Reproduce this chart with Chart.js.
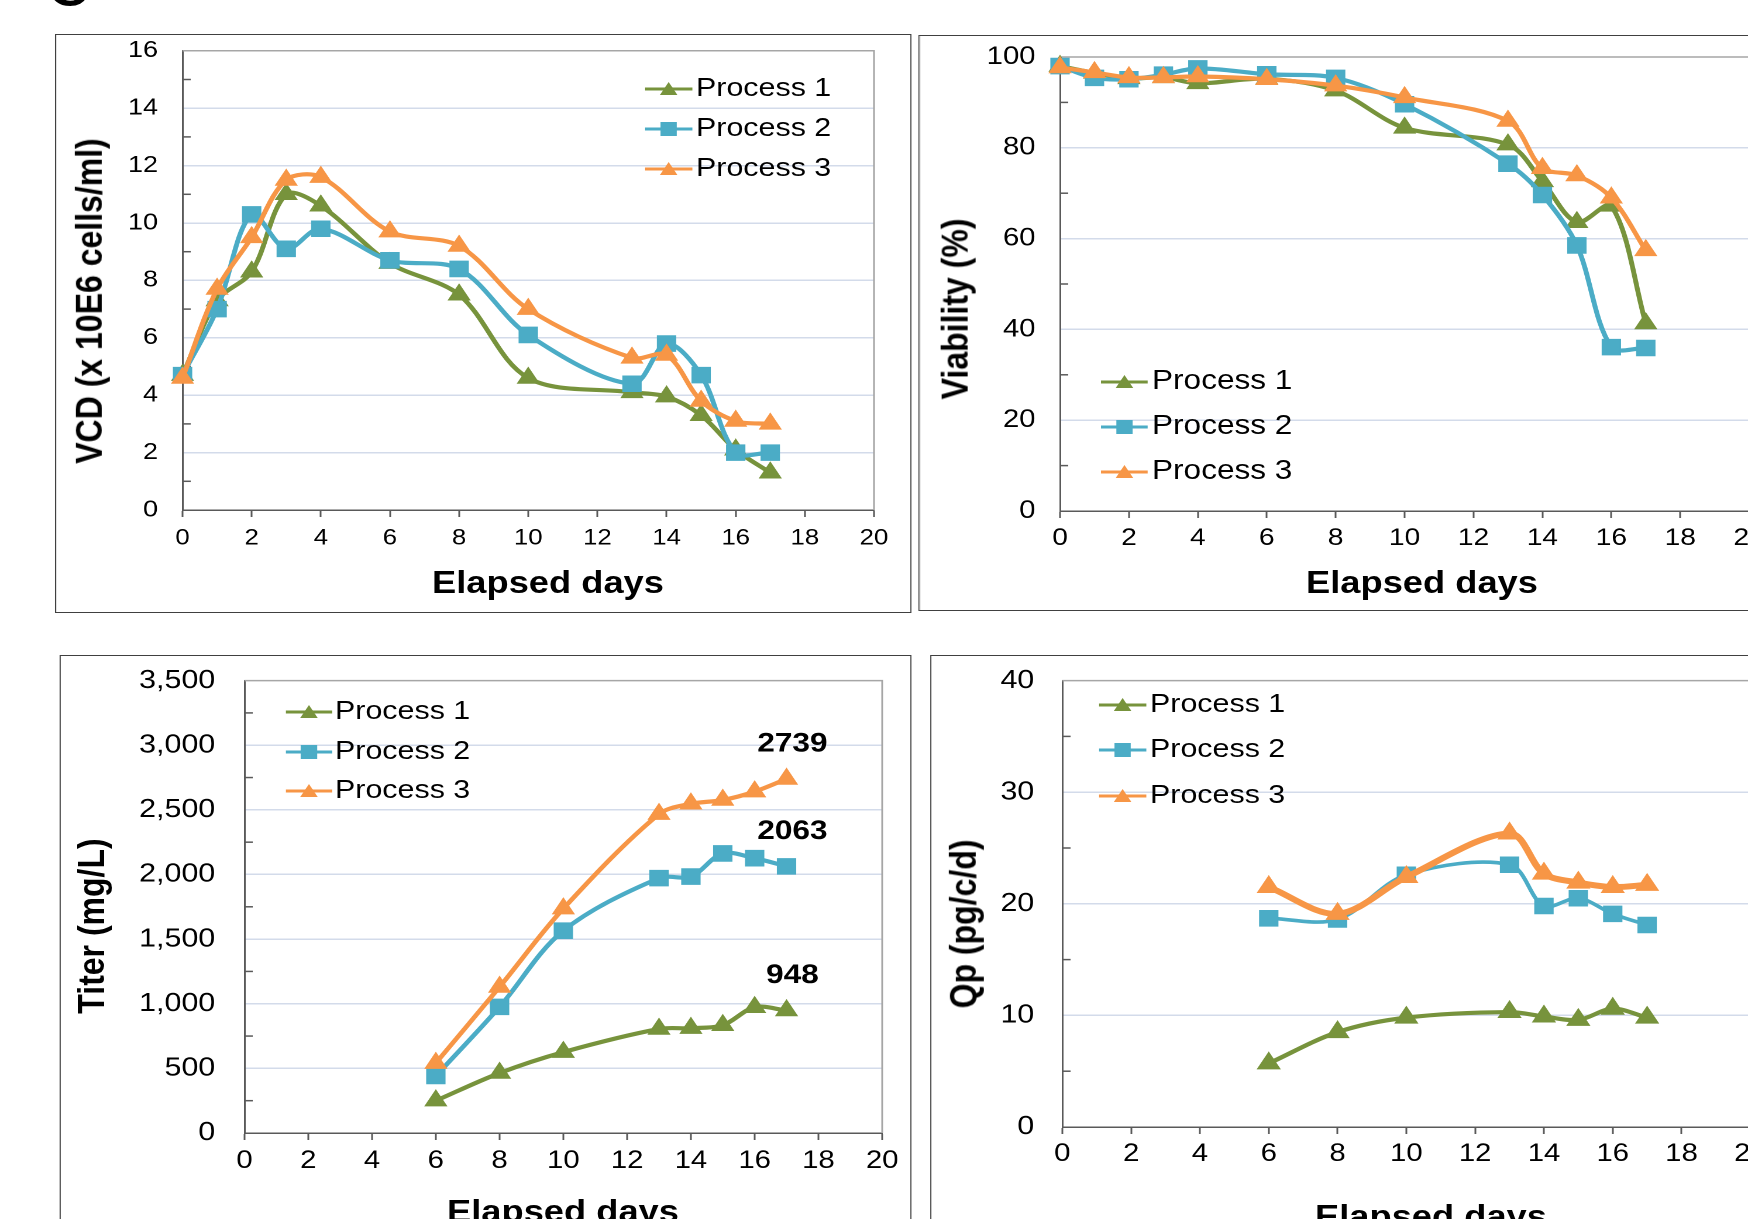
<!DOCTYPE html>
<html>
<head>
<meta charset="utf-8">
<title>Process comparison</title>
<script src="https://cdn.jsdelivr.net/npm/chart.js@4.4.1/dist/chart.umd.min.js"></script>
<style>
  html, body { margin: 0; padding: 0; background: #fff; overflow: hidden; }
  /* the source figure is stretched horizontally, so the whole stage is too */
  #stage {
    position: absolute; left: 0; top: 0; width: 1494px; height: 1219px;
    transform: scaleX(1.17); transform-origin: 0 0;
    font-family: "Liberation Sans", Arial, sans-serif; color: #000;
  }
  .panel { position: absolute; border: 1.5px solid #404040; box-sizing: border-box; }
  .plot { position: absolute; }
  .title { position: absolute; font-weight: bold; white-space: nowrap; line-height: 1; }
  .leg { position: absolute; white-space: nowrap; line-height: 1; }
  .leg svg { position: absolute; left: 0; top: -10px; }
  .leg span { position: absolute; }
  #tag { left: 42px; top: -33px; font-size: 46px; }
</style>
</head>
<body>
<div id="stage">
  <div class="title" id="tag">C</div>
</div>
<script>
// ---- data ----
var daysAll = [0, 1, 2, 3, 4, 6, 8, 10, 13, 14, 15, 16, 17];
var daysProd = [6, 8, 10, 13, 14, 15, 16, 17];
var seriesNames = ['Process 1', 'Process 2', 'Process 3'];
var dayTicks = [0, 2, 4, 6, 8, 10, 12, 14, 16, 18, 20];

// VCD (x 10E6 cells/ml)
var vcd1 = [4.7, 7.3, 8.3, 11.0, 10.6, 8.6, 7.5, 4.6, 4.1, 3.95, 3.3, 2.1, 1.3];
var vcd2 = [4.7, 7.0, 10.3, 9.1, 9.8, 8.7, 8.4, 6.1, 4.4, 5.8, 4.7, 2.0, 2.0];
var vcd3 = [4.6, 7.7, 9.5, 11.5, 11.6, 9.7, 9.2, 7.0, 5.3, 5.4, 3.8, 3.1, 3.0];
var vcdTicks = [0, 2, 4, 6, 8, 10, 12, 14, 16];

// Viability (%)
var via1 = [98, 96.5, 95.3, 95.5, 94.2, 95.2, 92.6, 84.4, 80.7, 72.6, 63.6, 67.2, 41.3];
var via2 = [98, 95.4, 95.1, 96.1, 97.5, 96.2, 95.4, 89.6, 76.5, 69.6, 58.5, 36.1, 35.9];
var via3 = [97.7, 96.6, 95.5, 95.5, 95.7, 95.1, 93.7, 91.1, 85.9, 75.5, 73.9, 69.0, 57.4];
var viaTicks = [0, 20, 40, 60, 80, 100];

// Titer (mg/L)
var tit1 = [250, 464, 626, 805, 811, 834, 973, 948];
var tit2 = [441, 976, 1565, 1972, 1984, 2163, 2126, 2063];
var tit3 = [541, 1130, 1736, 2467, 2547, 2576, 2641, 2739];
var titTicks = [0, 500, 1000, 1500, 2000, 2500, 3000, 3500];

// Qp (pg/c/d)
var qp1 = [5.7, 8.5, 9.8, 10.3, 9.9, 9.6, 10.6, 9.8];
var qp2 = [18.7, 18.6, 22.6, 23.5, 19.8, 20.5, 19.1, 18.1];
var qp3 = [21.5, 19.1, 22.4, 26.3, 22.7, 21.9, 21.5, 21.7];
var qpTicks = [0, 10, 20, 30, 40];

// ---- styling ----
var colors = ['#77933c', '#4bacc6', '#f79646'];
var shapes = ['triangle', 'rect', 'triangle'];
var FONT = '"Liberation Sans", Arial, sans-serif';
var GRID = '#d3dbea', AXIS = '#595959', FRAME = '#a6a6a6';
var S = 1.17;
var stage = document.getElementById('stage');

function addPanel(box) {
  var d = document.createElement('div');
  d.className = 'panel';
  d.style.left = box[0] / S + 'px';
  d.style.top = box[1] + 'px';
  d.style.width = (box[2] - box[0]) / S + 'px';
  d.style.height = (box[3] - box[1]) + 'px';
  stage.appendChild(d);
}

function addTitle(text, cx, cy, size, vertical) {
  var t = document.createElement('div');
  t.className = 'title';
  t.textContent = text;
  t.style.fontSize = size + 'px';
  t.style.left = cx / S + 'px';
  t.style.top = cy + 'px';
  t.style.transform = 'translate(-50%,-50%)' + (vertical ? ' rotate(-90deg)' : '');
  stage.appendChild(t);
}

function markerSvg(i, w) {
  var c = colors[i], m = w / 2, mark;
  if (shapes[i] === 'rect') {
    mark = '<rect x="' + (m - 7) + '" y="3" width="14" height="14" fill="' + c + '"/>';
  } else {
    mark = '<polygon points="' + (m - 7.5) + ',16 ' + (m + 7.5) + ',16 ' + m + ',3" fill="' + c + '"/>';
  }
  return '<svg width="' + w + '" height="20"><line x1="0" y1="10" x2="' + w + '" y2="10" stroke="' + c +
    '" stroke-width="3"/>' + mark + '</svg>';
}

function addLegend(lg) {
  lg.ys.forEach(function (y, i) {
    var row = document.createElement('div');
    row.className = 'leg';
    row.style.left = lg.x0 / S + 'px';
    row.style.top = y + 'px';
    row.innerHTML = markerSvg(i, (lg.x1 - lg.x0) / S) +
      '<span style="left:' + ((lg.tx - lg.x0) / S) + 'px;top:' + (-lg.size / 2 - 2) +
      'px;font-size:' + lg.size + 'px">' + seriesNames[i] + '</span>';
    stage.appendChild(row);
  });
}

// plot frame, inner minor ticks and end-of-series labels
function framePlugin(labelTicks, endLabels) {
  return {
    id: 'frame',
    beforeDatasetsDraw: function (chart) {
      var a = chart.chartArea, ctx = chart.ctx, ys = chart.scales.y;
      ctx.save();
      ctx.lineWidth = 1.5;
      ctx.strokeStyle = FRAME;
      ctx.beginPath();
      ctx.moveTo(a.left, a.top);
      ctx.lineTo(a.right, a.top);
      ctx.lineTo(a.right, a.bottom);
      ctx.stroke();
      ctx.strokeStyle = AXIS;
      ys.ticks.forEach(function (t) {
        if (labelTicks.indexOf(t.value) < 0) {
          var y = ys.getPixelForValue(t.value);
          ctx.beginPath();
          ctx.moveTo(a.left, y);
          ctx.lineTo(a.left + 7, y);
          ctx.stroke();
        }
      });
      ctx.restore();
    },
    afterDatasetsDraw: function (chart) {
      if (!endLabels) return;
      var ctx = chart.ctx;
      ctx.save();
      ctx.font = 'bold 27px ' + FONT;
      ctx.fillStyle = '#000';
      ctx.textAlign = 'center';
      ctx.textBaseline = 'middle';
      chart.data.datasets.forEach(function (ds, i) {
        var pts = chart.getDatasetMeta(i).data, p = pts[pts.length - 1];
        ctx.fillText(String(ds.data[ds.data.length - 1].y), p.x + 5, p.y - 35);
      });
      ctx.restore();
    }
  };
}

function makeChart(p) {
  var YW = 110, XH = 60, PT = 20, PR = 25;
  var W = Math.round((p.plot[2] - p.plot[0]) / S), H = p.plot[3] - p.plot[1];
  var cv = document.createElement('canvas');
  cv.className = 'plot';
  cv.style.left = (p.plot[0] / S - YW) + 'px';
  stage.appendChild(cv);

  var yt = p.yTicks, ymin = yt[0], ymax = yt[yt.length - 1];
  var allY = [];
  for (var k = 0; k < yt.length; k++) {
    allY.push(yt[k]);
    if (k < yt.length - 1) allY.push((yt[k] + yt[k + 1]) / 2);
  }

  function build(topSpace) {
    cv.width = YW + W + PR;
    cv.height = topSpace + H + XH;
    cv.style.width = cv.width + 'px';
    cv.style.height = cv.height + 'px';
    cv.style.top = (p.plot[1] - topSpace) + 'px';
    return new Chart(cv, {
      type: 'line',
      data: {
        datasets: p.series.map(function (vals, i) {
          return {
            label: seriesNames[i],
            data: vals.map(function (v, j) { return { x: p.days[j], y: v }; }),
            borderColor: colors[i],
            backgroundColor: colors[i],
            borderWidth: p.lw[i],
            tension: 0.33,
            fill: false,
            pointStyle: shapes[i],
            pointRadius: shapes[i] === 'rect' ? 11 : p.tri,
            pointBorderWidth: 1,
            pointBorderColor: colors[i],
            pointBackgroundColor: colors[i],
            clip: false,
            order: 2 - i
          };
        })
      },
      options: {
        responsive: false,
        animation: false,
        devicePixelRatio: 2,
        layout: { padding: { top: PT, right: PR, left: 0, bottom: 0 } },
        plugins: { legend: { display: false }, tooltip: { enabled: false } },
        scales: {
          x: {
            type: 'linear',
            min: dayTicks[0],
            max: dayTicks[dayTicks.length - 1],
            afterFit: function (s) { s.height = XH; },
            afterBuildTicks: function (s) { s.ticks = dayTicks.map(function (v) { return { value: v }; }); },
            ticks: { font: { family: FONT, size: p.fs }, color: '#000', padding: p.xpad, maxRotation: 0, autoSkip: false },
            grid: { color: 'rgba(0,0,0,0)', drawOnChartArea: false, tickLength: 7, tickColor: AXIS, tickWidth: 1.5 },
            border: { color: AXIS, width: 1.5 }
          },
          y: {
            type: 'linear',
            min: ymin,
            max: ymax,
            afterFit: function (s) { s.width = YW; },
            afterBuildTicks: function (s) { s.ticks = allY.map(function (v) { return { value: v }; }); },
            ticks: {
              font: { family: FONT, size: p.fs + 1 },
              color: '#000',
              padding: p.ypad,
              autoSkip: false,
              callback: function (v) { return yt.indexOf(v) >= 0 ? v.toLocaleString('en-US') : ''; }
            },
            grid: {
              drawTicks: false,
              lineWidth: 1.5,
              color: function (c) {
                var v = c.tick && c.tick.value;
                return (yt.indexOf(v) >= 0 && v !== ymin && v !== ymax) ? GRID : 'rgba(0,0,0,0)';
              }
            },
            border: { color: AXIS, width: 1.5 }
          }
        }
      },
      plugins: [framePlugin(yt, p.endLabels)]
    });
  }

  // the y axis reserves room above its top label; make the canvas taller by that much
  var chart = build(PT);
  var top = chart.chartArea.top;
  if (Math.abs(top - PT) > 0.5) {
    chart.destroy();
    build(top);
  }
}

var panels = [
  {
    box: [55, 34, 911, 613], plot: [182, 51, 874, 511],
    days: daysAll, series: [vcd1, vcd2, vcd3], yTicks: vcdTicks,
    fs: 22, ypad: 21, xpad: 8, lw: [4.2, 4.2, 4.2], tri: 10.5,
    legend: { x0: 645, x1: 693, tx: 696, ys: [89, 129, 169], size: 26 },
    ytitle: ['VCD (x 10E6 cells/ml)', 89, 301], xtitle: [548, 582]
  },
  {
    box: [918, 35, 2600, 611], plot: [1060, 57, 1749, 511],
    days: daysAll, series: [via1, via2, via3], yTicks: viaTicks,
    fs: 24, ypad: 21, xpad: 6, lw: [4.2, 4.2, 4.2], tri: 10.5,
    legend: { x0: 1101, x1: 1148, tx: 1152, ys: [382, 427, 472], size: 27 },
    ytitle: ['Viability (%)', 955, 309], xtitle: [1422, 582]
  },
  {
    box: [60, 655, 912, 1400], plot: [245, 681, 883, 1134],
    days: daysProd, series: [tit1, tit2, tit3], yTicks: titTicks,
    fs: 25, ypad: 25, xpad: 6, lw: [4.2, 4.2, 4.2], tri: 10.5, endLabels: true,
    legend: { x0: 285, x1: 332, tx: 335, ys: [712, 752, 791], size: 26 },
    ytitle: ['Titer (mg/L)', 91, 926], xtitle: [563, 1211]
  },
  {
    box: [930, 655, 2600, 1400], plot: [1062, 681, 1750, 1128],
    days: daysProd, series: [qp1, qp2, qp3], yTicks: qpTicks,
    fs: 25, ypad: 24, xpad: 5, lw: [4.2, 3.6, 6], tri: 11,
    legend: { x0: 1099, x1: 1147, tx: 1150, ys: [705, 750, 796], size: 26 },
    ytitle: ['Qp (pg/c/d)', 963, 924], xtitle: [1431, 1216]
  }
];

panels.forEach(function (p) {
  addPanel(p.box);
  makeChart(p);
  addLegend(p.legend);
  addTitle(p.ytitle[0], p.ytitle[1], p.ytitle[2], 32, true);
  addTitle('Elapsed days', p.xtitle[0], p.xtitle[1], 31, false);
});
</script>
</body>
</html>
